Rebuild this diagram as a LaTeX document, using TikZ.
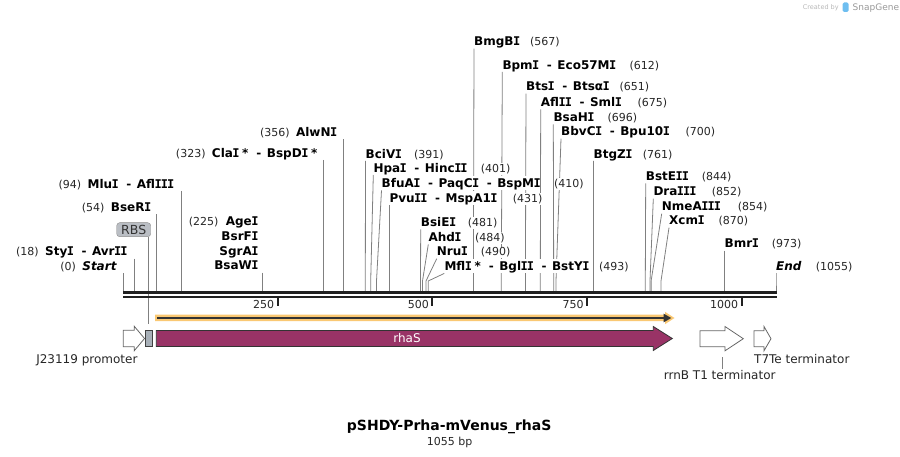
\documentclass[tikz,border=0pt]{standalone}
\usepackage{fontspec}
\setmainfont{DejaVu Sans}
\newfontfamily\monoI{DejaVu Sans Mono}
\usetikzlibrary{calc}
\pgfdeclarelayer{bg}
\pgfsetlayers{bg,main}
\newcommand\hy{\hspace{8pt}-\hspace{5.5pt}}
\newcommand\I{\kern-0.5pt{\monoI I}\kern-0.5pt}
\newcommand\astk{\hspace{3pt}*}
\definecolor{sitegray}{RGB}{128,128,128}
\definecolor{rulerc}{RGB}{32,32,32}
\definecolor{rhasc}{RGB}{153,51,102}
\definecolor{orfor}{RGB}{250,200,115}
\definecolor{rbsgray}{RGB}{168,176,184}
\definecolor{rbsbox}{RGB}{186,190,196}
\definecolor{sglogo}{RGB}{110,190,240}
% right-hand (left-aligned) site: id, site x, label x, baseline, text, number x, number
\newcommand\RS[7]{%
  \coordinate (s#1) at (#2,291);
  \node[enz, anchor=base west] (l#1) at (#3,#4) {#5};
  \node[num, anchor=base west] (n#1) at (#6,#4) {(#7)};
  \begin{pgfonlayer}{bg}
    \draw[cutline] (l#1.south west) -- (s#1 |- 0,281) -- (s#1);
  \end{pgfonlayer}}
% left-hand (right-aligned) site: id, site x, label end x, baseline, text, number
\newcommand\LS[6]{%
  \coordinate (s#1) at (#2,291);
  \node[enz, anchor=base east] (l#1) at (#3,#4) {#5};
  \node[num, anchor=base east] (n#1) at ($(l#1.base west)+(-6,0)$) {(#6)};
  \begin{pgfonlayer}{bg}
    \draw[cutline] (l#1.south east -| s#1) -- (s#1);
  \end{pgfonlayer}}
\begin{document}
\begin{tikzpicture}[x=1pt,y=-1pt,
  enz/.style={font=\fontsize{12}{14}\selectfont\bfseries, inner xsep=0pt, inner ysep=2.5pt, text depth=0pt, text=black, fill=white},
  num/.style={font=\fontsize{11}{13}\selectfont, inner xsep=0pt, inner ysep=1pt, text=black!85, fill=white},
  cutline/.style={draw=sitegray, line width=0.8pt},
  featout/.style={draw=black!60, fill=white, line width=0.8pt},
  flab/.style={font=\fontsize{12}{14}\selectfont, inner sep=0pt, text=black!85},
  ticklab/.style={font=\fontsize{11}{13}\selectfont, inner sep=0pt, text=black!85, anchor=base east},
]
\useasboundingbox (0,0) rectangle (900,457);

% ---- watermark ----
\node[font=\fontsize{6.5}{8}\selectfont, text=black!28, anchor=base west, inner sep=0pt] (cby) at (802.7,9.5) {Created by};
\fill[sglogo, rounded corners=1.5pt] (842.5,2.5) rectangle (848.5,12);
\node[font=\fontsize{9}{11}\selectfont, text=black!40, anchor=base west, inner sep=0pt] (sg) at (852.5,10.8) {SnapGene};

% ---- left-hand sites ----
\LS{0}{123.2}{116.7}{270.7}{\itshape Start}{0}
\LS{18}{134.2}{127.3}{256}{Sty\I\hy Avr\I\I}{18}
\LS{54}{156.2}{151}{211.7}{BseR\I}{54}
\LS{94}{181.2}{174}{188.3}{Mlu\I\hy Afl\I\I\I}{94}
\LS{323}{323.2}{317.5}{157.3}{Cla\I\astk\hy BspD\I\astk}{323}
\LS{356}{343.3}{337}{136.5}{AlwN\I}{356}

\coordinate (s225) at (262.3,291);
\node[enz, anchor=base east] (lage) at (258.3,226) {Age\I};
\node[enz, anchor=base east] (lbsrf) at (258.3,240.7) {BsrF\I};
\node[enz, anchor=base east] (lsgra) at (258.3,255.3) {SgrA\I};
\node[enz, anchor=base east] (lbsaw) at (258.3,270) {BsaW\I};
\node[num, anchor=base east] (n225) at ($(lage.base west)+(-7,0)$) {(225)};
\begin{pgfonlayer}{bg}
  \draw[cutline] (lbsaw.south east -| s225) -- (s225);
\end{pgfonlayer}

% ---- right-hand sites ----
\RS{391}{365.3}{365.5}{158.3}{BciV\I}{414}{391}
\RS{401}{370.7}{373.3}{172.3}{Hpa\I\hy Hinc\I\I}{480.7}{401}
\RS{410}{376.5}{381.5}{187.7}{BfuA\I\hy PaqC\I\hy BspM\I}{554}{410}
\RS{431}{389.3}{389.3}{202.7}{Pvu\I\I\hy MspA1\I}{512.7}{431}
\RS{481}{420.5}{420.7}{226.7}{BsiE\I}{467.7}{481}
\RS{484}{422.5}{428.3}{241.7}{Ahd\I}{475}{484}
\RS{490}{426}{436.7}{256}{Nru\I}{480.7}{490}
\RS{493}{428.2}{444.3}{270.7}{Mfl\I\astk\hy Bgl\I\I\hy BstY\I}{599}{493}
\RS{567}{473.4}{474}{46}{BmgB\I}{530}{567}
\RS{612}{501.3}{502.3}{69.3}{Bpm\I\hy Eco57M\I}{629.3}{612}
\RS{651}{525.4}{526}{91}{Bts\I\hy Btsα\I}{619.3}{651}
\RS{675}{540.3}{540.7}{106.7}{Afl\I\I\hy Sml\I}{637.3}{675}
\RS{696}{553.7}{553.3}{121.7}{BsaH\I}{607.3}{696}
\RS{700}{556}{561}{136}{BbvC\I\hy Bpu10\I}{685.3}{700}
\RS{761}{593.4}{593.5}{158.3}{BtgZ\I}{642.7}{761}
\RS{844}{645.3}{645.7}{180.7}{BstE\I\I}{701.7}{844}
\RS{852}{650}{653.3}{196}{Dra\I\I\I}{711.7}{852}
\RS{854}{651.1}{661.7}{211}{NmeA\I\I\I}{737.7}{854}
\RS{870}{661}{669}{225}{Xcm\I}{718.3}{870}
\RS{973}{724.5}{724.5}{248}{Bmr\I}{771.7}{973}
\RS{1055}{776}{776}{270.7}{\itshape End}{815.7}{1055}

% ---- RBS label ----
\node[draw=black!45, fill=rbsbox, rounded corners=3pt, minimum width=34pt, minimum height=14pt, inner sep=0pt,
      font=\fontsize{12.5}{14}\selectfont, text=black!80] (rbs) at (133.7,229.7) {RBS};
\coordinate (rbsend) at (148.5,323.5);
\begin{pgfonlayer}{bg}
  \draw[cutline] (rbs.south -| rbsend) -- (rbsend);
\end{pgfonlayer}

% ---- ruler ----
\draw[rulerc, line width=2.8pt] (123,292.6) -- (776.5,292.6);
\draw[rulerc, line width=2.5pt] (123,296.9) -- (776.5,296.9);
\foreach \v/\t in {277.6/250, 432.3/500, 586.9/750, 741.5/1000}{
  \draw[rulerc, line width=2pt] (\v,297) -- (\v,305.5);
  \node[ticklab] (tk\t) at (\v-3.2,308.3) {\t};
}

% ---- ORF ----
\fill[orfor] (155,314.7) -- (665,314.7) -- (665,311.8) -- (674.5,318) -- (665,324.2) -- (665,321.2) -- (155,321.2) -- cycle;
\draw[black!80, line width=2.2pt] (157.3,318) -- (665,318);
\fill[black!80] (663.5,313.6) -- (671.3,318) -- (663.5,322.4) -- cycle;

% ---- features ----
\draw[featout] (123.3,330.3) -- (134.3,330.3) -- (134.3,326.3) -- (144.5,338.5) -- (134.3,350.7) -- (134.3,346.7) -- (123.3,346.7) -- cycle;
\draw[draw=black!75, fill=rbsgray, line width=0.8pt] (145.7,330.3) rectangle (152.3,346.7);
\draw[draw=black!80, fill=rhasc, line width=0.8pt] (156.3,330.5) -- (653.3,330.5) -- (653.3,326.5) -- (672.3,338.5) -- (653.3,350.5) -- (653.3,346.5) -- (156.3,346.5) -- cycle;
\node[flab, text=white, anchor=base] (rhas) at (407,342.2) {rhaS};
\draw[featout] (700,330.7) -- (725,330.7) -- (725,326.5) -- (743.3,338.7) -- (725,350.8) -- (725,346.7) -- (700,346.7) -- cycle;
\draw[featout] (754,330.7) -- (764,330.7) -- (764,326.5) -- (771,338.7) -- (764,350.8) -- (764,346.7) -- (754,346.7) -- cycle;

\node[flab, anchor=base east] (prom) at (137.7,363.3) {J23119 promoter};
\node[flab, anchor=base, inner ysep=1.5pt] (rrn) at (719.7,379.5) {rrnB T1 terminator};
\coordinate (rrntick) at (722.3,357);
\draw[cutline] (rrntick) -- (rrn.north -| rrntick);
\node[flab, anchor=base west] (t7te) at (754,363.3) {T7Te terminator};

% ---- title ----
\node[font=\fontsize{14}{16}\selectfont\bfseries, anchor=base, inner sep=0pt] (title) at (449.2,430.3) {pSHDY-Prha-mVenus\_rhaS};
\node[font=\fontsize{11}{13}\selectfont, anchor=base, inner sep=0pt, text=black!85] (len) at (449.7,445.7) {1055 bp};
\end{tikzpicture}
\end{document}
